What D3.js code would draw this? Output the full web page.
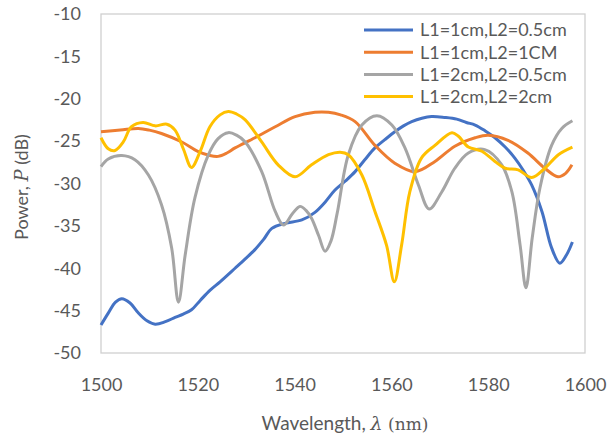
<!DOCTYPE html>
<html>
<head>
<meta charset="utf-8">
<script src="https://cdn.jsdelivr.net/npm/d3@7"></script>
<style>
  body { margin: 0; background: #fff; }
  svg { display: block; font-family: Lato, "Liberation Sans", sans-serif; }
</style>
</head>
<body>
<svg id="chart"></svg>
<script>
// series labels + colours (Excel defaults)
const seriesNames = ['L1=1cm,L2=0.5cm', 'L1=1cm,L2=1CM', 'L1=2cm,L2=0.5cm', 'L1=2cm,L2=2cm'];
const seriesColors = ['#4472C4', '#ED7D31', '#A5A5A5', '#FFC000'];

const xTicks = [1500, 1520, 1540, 1560, 1580, 1600];
const yTicks = [-10, -15, -20, -25, -30, -35, -40, -45, -50];

// values: [wavelength nm, power dB]
const blue = [
  [1500, -46.7], [1501.5, -45.3], [1503, -44.0], [1504.3, -43.6], [1506, -44.1], [1507.6, -45.2],
  [1509.5, -46.2], [1511.2, -46.6], [1513.3, -46.3], [1515.3, -45.8], [1517, -45.4], [1518.7, -44.9],
  [1520.5, -43.8], [1522.5, -42.6], [1524.6, -41.6], [1527.7, -40.0], [1529.8, -38.9], [1531.8, -37.8],
  [1533.6, -36.6], [1535.3, -35.3], [1538.0, -34.7], [1541.5, -34.3], [1544.2, -33.4], [1546.3, -32.2],
  [1548.3, -30.8], [1550.5, -29.7], [1552.5, -28.6], [1554.5, -27.2], [1556.6, -25.8], [1558.7, -24.8],
  [1560.7, -23.9], [1562.5, -23.2], [1564.2, -22.7], [1566.3, -22.3], [1568.3, -22.1], [1571, -22.2],
  [1573.5, -22.4], [1575.5, -22.8], [1577.3, -23.1], [1579.4, -23.8], [1581.4, -24.6], [1583.5, -25.7],
  [1585.5, -27.0], [1587.3, -28.5], [1589.0, -30.2], [1591.1, -33.3], [1593.1, -37.6], [1594.8, -39.4],
  [1596.2, -38.4], [1597.4, -36.9]
];
const orange = [
  [1500, -23.9], [1504, -23.7], [1507.7, -23.5], [1510, -23.7], [1512.5, -24.1], [1516.7, -25.1],
  [1520.0, -26.2], [1522.5, -26.7], [1524.2, -26.8], [1526, -26.4], [1527.7, -25.8], [1531.8, -24.6],
  [1536.0, -23.3], [1540.1, -22.1], [1544.2, -21.6], [1547, -21.6], [1549.5, -21.9], [1552.5, -22.7],
  [1556.6, -25.5], [1560.7, -27.6], [1564.9, -28.6], [1569.0, -27.4], [1573.1, -25.6], [1577.3, -24.6],
  [1580, -24.3], [1584.1, -24.9], [1588.2, -26.4], [1591.7, -28.2], [1594.4, -29.2], [1596, -28.8],
  [1597.3, -27.8]
];
const gray = [
  [1500, -28.0], [1501.5, -27.1], [1504.3, -26.7], [1507.0, -27.2], [1509.8, -29.0], [1512.5, -32.5],
  [1514.6, -37.6], [1516.0, -44.0], [1517.4, -38.4], [1519.4, -31.7], [1522.2, -26.6], [1524.2, -24.7],
  [1526.3, -24.0], [1528, -24.3], [1529.8, -25.1], [1533.2, -28.6], [1536.0, -33.3], [1537.7, -34.9],
  [1539.5, -33.6], [1541.1, -32.7], [1542.4, -33.2], [1543.5, -34.1], [1545, -36.2], [1546.3, -38.0],
  [1547.5, -36.8], [1548.8, -33.5], [1551.1, -26.6], [1553.9, -23.1], [1557.0, -22.0], [1560.1, -23.1],
  [1562.8, -25.8], [1565.6, -30.2], [1567.8, -33.0], [1570.4, -31.0], [1573.1, -28.2], [1575.9, -26.4],
  [1579.3, -26.0], [1582.8, -27.8], [1584.9, -31.0], [1586.6, -37.3], [1587.8, -42.3], [1589.1, -36.4],
  [1590.7, -30.5], [1593.1, -25.5], [1595.2, -23.5], [1597.4, -22.6]
];
const yellow = [
  [1500, -24.6], [1501.5, -25.9], [1502.9, -26.1], [1504.6, -25.1], [1506.3, -23.3], [1508.7, -22.8],
  [1511.2, -23.2], [1513.6, -23.0], [1515.3, -23.7], [1517.0, -25.9], [1518.7, -28.1], [1520.5, -26.2],
  [1522.5, -23.3], [1524.6, -21.9], [1526.3, -21.5], [1528, -21.8], [1529.8, -22.5], [1533.2, -25.1],
  [1536.6, -27.8], [1540.1, -29.2], [1543.5, -27.8], [1547.0, -26.6], [1549.4, -26.3], [1551.1, -26.6],
  [1553.9, -29.0], [1556.6, -33.3], [1559.0, -37.3], [1560.6, -41.6], [1562.1, -37.3], [1563.8, -31.0],
  [1566.2, -27.0], [1569.0, -25.5], [1572.5, -24.0], [1573.8, -24.4], [1575.9, -25.7], [1578.7, -26.2],
  [1581.4, -27.4], [1583.5, -28.2], [1586.2, -28.4], [1589.0, -29.3], [1591.7, -28.2], [1594.5, -26.6],
  [1597.4, -25.7]
];
const seriesData = [blue, orange, gray, yellow];

const W = 609, H = 438;
const margin = { top: 14, right: 24, bottom: 85, left: 101 };
const width = W - margin.left - margin.right;
const height = H - margin.top - margin.bottom;

const svg = d3.select('#chart').attr('width', W).attr('height', H);
const g = svg.append('g').attr('transform', `translate(${margin.left},${margin.top})`);

const x = d3.scaleLinear().domain([1500, 1600]).range([0, width]);
const y = d3.scaleLinear().domain([-50, -10]).range([height, 0]);

// plot frame
g.append('rect')
  .attr('width', width).attr('height', height)
  .attr('fill', 'none').attr('stroke', '#D0D0D0').attr('stroke-width', 1.3);

const xAxis = g.append('g')
  .attr('transform', `translate(0,${height})`)
  .call(d3.axisBottom(x).tickValues(xTicks).tickSize(0).tickPadding(25).tickFormat(d => String(d)));
// plain hyphen like Excel, not the unicode minus d3 uses
const yAxis = g.append('g')
  .call(d3.axisLeft(y).tickValues(yTicks).tickSize(0).tickPadding(20).tickFormat(d => String(d)));
[xAxis, yAxis].forEach(a => {
  a.select('.domain').remove();
  a.selectAll('text').attr('fill', '#595959').style('font-size', '18px')
    .style('font-family', 'Lato, "Liberation Sans", sans-serif');
});

const line = d3.line()
  .x(d => x(d[0]))
  .y(d => y(d[1]))
  .curve(d3.curveCatmullRom.alpha(0.5));

g.selectAll('path.series')
  .data(seriesData)
  .join('path')
  .attr('class', 'series')
  .attr('fill', 'none')
  .attr('stroke', (d, i) => seriesColors[i])
  .attr('stroke-width', 3)
  .attr('stroke-linejoin', 'round')
  .attr('d', line);

// legend
const legend = svg.append('g').attr('transform', 'translate(364,30)');
const items = legend.selectAll('g')
  .data(seriesNames)
  .join('g')
  .attr('transform', (d, i) => `translate(0,${i * 22.2})`);
items.append('line')
  .attr('x1', 0).attr('x2', 49)
  .attr('stroke', (d, i) => seriesColors[i])
  .attr('stroke-width', 3);
items.append('text')
  .attr('x', 56).attr('dy', '0.35em')
  .attr('fill', '#595959')
  .style('font-size', '18px')
  .text(d => d);

// axis titles
const xTitle = svg.append('text')
  .attr('x', 345).attr('y', 430)
  .attr('text-anchor', 'middle')
  .attr('fill', '#595959')
  .style('font-size', '19px');
xTitle.append('tspan').text('Wavelength, ');
xTitle.append('tspan').style('font-family', '"DejaVu Serif", serif').style('font-style', 'italic').text('λ');
xTitle.append('tspan').style('font-family', '"DejaVu Serif", serif').style('font-size', '17px').text(' (nm)');

const yTitle = svg.append('text')
  .attr('transform', 'translate(28,187) rotate(-90)')
  .attr('text-anchor', 'middle')
  .attr('fill', '#595959')
  .style('font-size', '18px');
yTitle.append('tspan').text('Power, ');
yTitle.append('tspan').style('font-family', '"DejaVu Serif", serif').style('font-style', 'italic').text('P');
yTitle.append('tspan').text(' (dB)');
</script>
</body>
</html>
